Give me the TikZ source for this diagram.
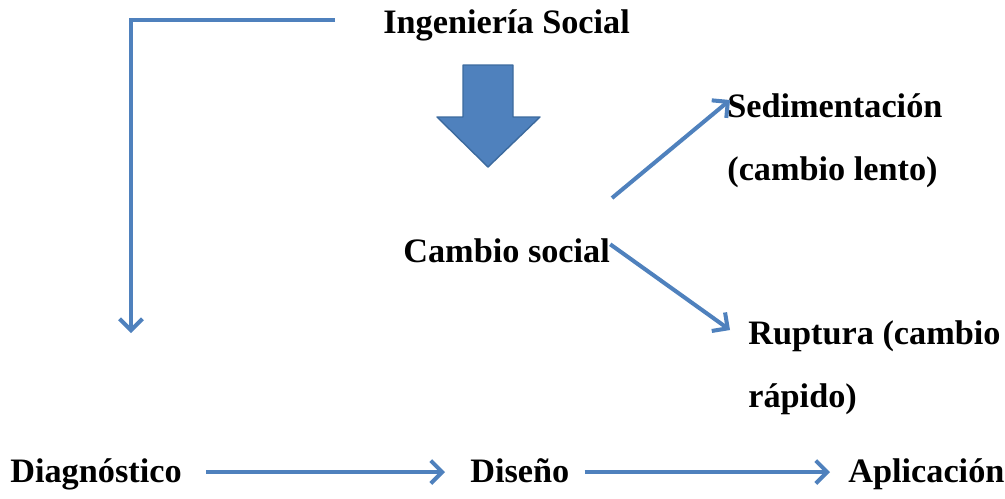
\documentclass[tikz,border=0pt]{standalone}
\usepackage{fontspec}
\setmainfont{Liberation Serif}
\usetikzlibrary{arrows.meta}
\definecolor{officeblue}{HTML}{4F81BD}
\definecolor{officeedge}{HTML}{3C6A9E}
\tikzset{
  lbl/.style={inner sep=0pt, font=\bfseries\fontsize{19.5}{35.7}\selectfont, align=left, anchor=base west},
  link/.style={draw=officeblue, line width=2.3pt, -{Straight Barb[length=6.5pt,width=13pt]}},
}

\begin{document}
\begin{tikzpicture}[x=0.02cm,y=-0.02cm]
  \useasboundingbox (0,0) rectangle (1005,498);

  % labels
  \node[lbl] (ing) at (383,33) {Ingeniería Social};
  \node[lbl] (cs) at (403,262) {Cambio social};
  \node[lbl] (sed) at (727,180) {Sedimentación\\(cambio lento)};
  \node[lbl] (rup) at (748,407) {Ruptura (cambio\\rápido)};
  \node[lbl] (diag) at (10,482) {Diagnóstico};
  \node[lbl] (dis) at (470,482) {Diseño};
  \node[lbl] (apl) at (848,482) {Aplicación};

  % free ends
  \coordinate (corner) at (131,20);
  \coordinate (diagtop) at (131,333);
  \coordinate (csup) at (612,198);

  % block arrow
  \draw[fill=officeblue, draw=officeedge, line width=0.8pt, line join=round]
    (463,65) -- (513,65) -- (513,117) -- (540,117) -- (488,167)
    -- (437,117) -- (463,117) -- cycle;

  % connectors
  \draw[link] (ing.west |- corner) ++(-48,0) -- (corner) -- (diagtop);
  \draw[link] (csup) -- (730,100);
  \draw[link] (cs.east) ++(0,-6) -- (730,330);
  \draw[link] (diag.east |- 0,472) ++(24,0) -- (445,472);
  \draw[link] (dis.east |- 0,472) ++(15,0) -- (830,472);
\end{tikzpicture}
\end{document}
